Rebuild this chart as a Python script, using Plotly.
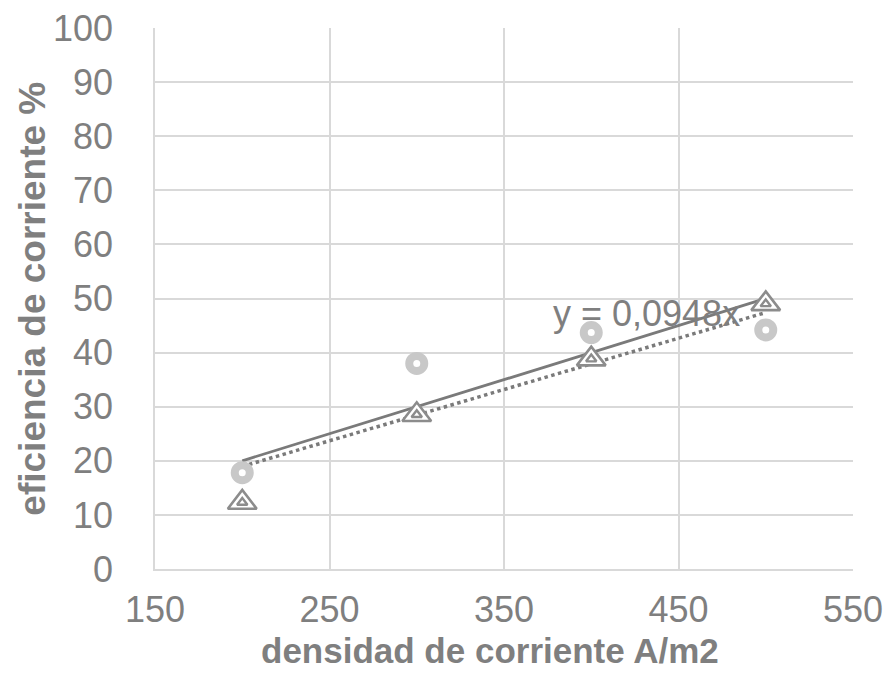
import plotly.graph_objects as go

# Current density (A/m2) and current efficiency (%) for two series
densidad = [200, 300, 400, 500]
eficiencia_a = [17.8, 38.0, 43.7, 44.2]   # ring markers
eficiencia_b = [12.3, 28.5, 38.8, 49.0]   # triangle markers

# Reference line and fitted trend (y = 0.0948 x) endpoints
linea_x = [200, 500]
linea_y = [20.0, 50.0]
pendiente = 0.0948
tendencia_x = [200, 500]

x_ticks = [150, 250, 350, 450, 550]
y_ticks = [0, 10, 20, 30, 40, 50, 60, 70, 80, 90, 100]

FONT = "Liberation Sans, Arial, sans-serif"
GRAY = "#7f7f7f"
GRID = "#d9d9d9"

fig = go.Figure()

fig.add_trace(go.Scatter(
    x=linea_x, y=linea_y, mode="lines",
    line=dict(color="#7a7a7a", width=2.8), hoverinfo="skip", showlegend=False))

fig.add_trace(go.Scatter(
    x=tendencia_x, y=[pendiente * v for v in tendencia_x], mode="lines",
    line=dict(color="#7a7a7a", width=3.5, dash="dot"), hoverinfo="skip", showlegend=False))

fig.add_trace(go.Scatter(
    x=densidad, y=eficiencia_a, mode="markers",
    marker=dict(symbol="circle", size=15, color="white",
                line=dict(color="#c8c8c8", width=8)),
    showlegend=False))

fig.add_trace(go.Scatter(
    x=densidad, y=eficiencia_b, mode="markers",
    marker=dict(symbol="triangle-up", size=25, color="white",
                line=dict(color="#8c8c8c", width=2.6)),
    showlegend=False))
fig.add_trace(go.Scatter(
    x=densidad, y=eficiencia_b, mode="markers",
    marker=dict(symbol="triangle-up", size=9, color="white",
                line=dict(color="#8c8c8c", width=2.4)),
    showlegend=False))

fig.add_annotation(
    x=377, y=47.3, xref="x", yref="y", xanchor="left", yanchor="middle",
    text="y = 0,0948x", showarrow=False,
    font=dict(family=FONT, size=36, color=GRAY))

# Axis titles
fig.add_annotation(
    x=0.48, y=-0.15, xref="paper", yref="paper", xanchor="center", yanchor="middle",
    text="<b>densidad de corriente A/m2</b>", showarrow=False,
    font=dict(family=FONT, size=35, color=GRAY))
fig.add_annotation(
    x=-0.176, y=0.50, xref="paper", yref="paper", xanchor="center", yanchor="middle",
    text="<b>eficiencia de corriente %</b>", showarrow=False, textangle=-90,
    font=dict(family=FONT, size=37, color=GRAY))

fig.update_xaxes(
    range=[150, 550], tickvals=x_ticks, ticktext=[str(v) for v in x_ticks],
    showgrid=True, gridcolor=GRID, gridwidth=1.5,
    showline=True, linecolor=GRID, linewidth=1.5, zeroline=False,
    ticklabelstandoff=8, automargin=False,
    tickfont=dict(family=FONT, size=36, color=GRAY))

fig.update_yaxes(
    range=[0, 100], tickvals=y_ticks, ticktext=[str(v) for v in y_ticks],
    showgrid=True, gridcolor=GRID, gridwidth=1.5,
    showline=True, linecolor=GRID, linewidth=1.5, zeroline=False,
    ticklabelstandoff=33, automargin=False,
    tickfont=dict(family=FONT, size=36, color=GRAY))

fig.update_layout(
    width=889, height=679,
    margin=dict(l=155, r=36, t=28, b=110),
    paper_bgcolor="white", plot_bgcolor="white",
)

fig.write_html("out.html")
